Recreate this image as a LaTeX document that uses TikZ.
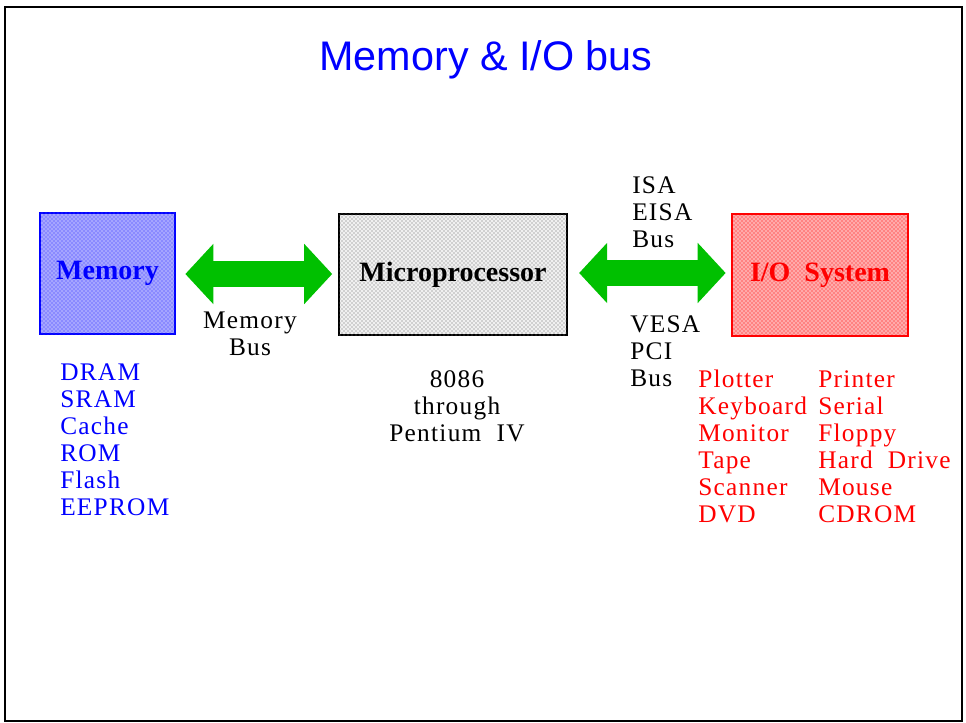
\documentclass[tikz,border=0pt]{standalone}
\usepackage{fontspec}
\setmainfont{Liberation Serif}[LetterSpace=5]
\newfontfamily\titlefont{Liberation Sans}
\newfontfamily\unitfont{Liberation Serif}
\usetikzlibrary{arrows.meta, patterns, positioning}
\definecolor{myblue}{RGB}{0,0,255}
\definecolor{myred}{RGB}{255,0,0}
\definecolor{mygreen}{RGB}{0,192,0}
\definecolor{memfill}{RGB}{165,165,255}
\definecolor{iofill}{RGB}{255,170,170}
\definecolor{cpufill}{RGB}{240,240,240}
\tikzset{font=\fontsize{19}{20.25}\selectfont}

\begin{document}
\begin{tikzpicture}[
x=0.75pt, y=-0.75pt,
unit/.style 2 args={
  draw=#1,
  fill=#2,
  rectangle,
  inner sep=0pt,
  font=\unitfont\fontsize{21}{24}\selectfont\bfseries
  },
dotted fill/.style={
  postaction={pattern=crosshatch dots, pattern color=#1}
  },
bus/.style={
  line width=20pt,
  mygreen,
  {Triangle[length=21pt,width=44pt]}-{Triangle[length=21pt,width=44pt]},
  shorten <=#1,
  shorten >=4pt
  },
lst/.style={
  align=left,
  anchor=base west,
  inner sep=0pt
  }
]
\useasboundingbox (0,0) rectangle (966,723);
\draw[line width=1.5pt] (5,7) rectangle (962,721);

%the title
\node[font=\titlefont\fontsize{31}{36}\selectfont, text=myblue] (title) at (486,60) {Memory \& I/O bus};

%the three units
\node[unit={myblue}{memfill}, line width=1.5pt, dotted fill=myblue!80,
  minimum width=101.25pt, minimum height=90.75pt, text=myblue] (mem) at (107.5,273.5) {Memory};
\node[unit={black}{cpufill}, line width=2.2pt, dotted fill=black!60,
  minimum width=171pt, minimum height=90.75pt] (cpu) at (453,274.5) {Microprocessor};
\node[unit={myred}{iofill}, line width=1.5pt, dotted fill=myred,
  minimum width=132pt, minimum height=91.5pt, text=myred] (io) at (820,275) {I/O\ \ System};

%the buses
\draw[bus=7pt] (mem.east |- 0,274) -- (cpu.west |- 0,274);
\draw[bus=8pt] (cpu.east |- 0,273) -- (io.west |- 0,273);

%the bus names
\node[align=center, anchor=base, inner sep=0pt] (membus) at (250,355) {Memory\\Bus};
\node[lst] (isabus) at (632,248) {ISA\\EISA\\Bus};
\node[lst] (pcibus) at (630,386) {VESA\\PCI\\Bus};

%the lists
\node[align=center, anchor=base, inner sep=0pt] (cpulist) at (457,441) {8086\\through\\Pentium\ \ IV};
\node[lst, text=myblue] (memlist) at (60,515) {DRAM\\SRAM\\Cache\\ROM\\Flash\\EEPROM};
\node[lst, text=myred] (iolistA) at (698,522) {Plotter\\Keyboard\\Monitor\\Tape\\Scanner\\DVD};
\node[lst, text=myred] (iolistB) at (818,522) {Printer\\Serial\\Floppy\\Hard\ \ Drive\\Mouse\\CDROM};

\end{tikzpicture}
\end{document}
